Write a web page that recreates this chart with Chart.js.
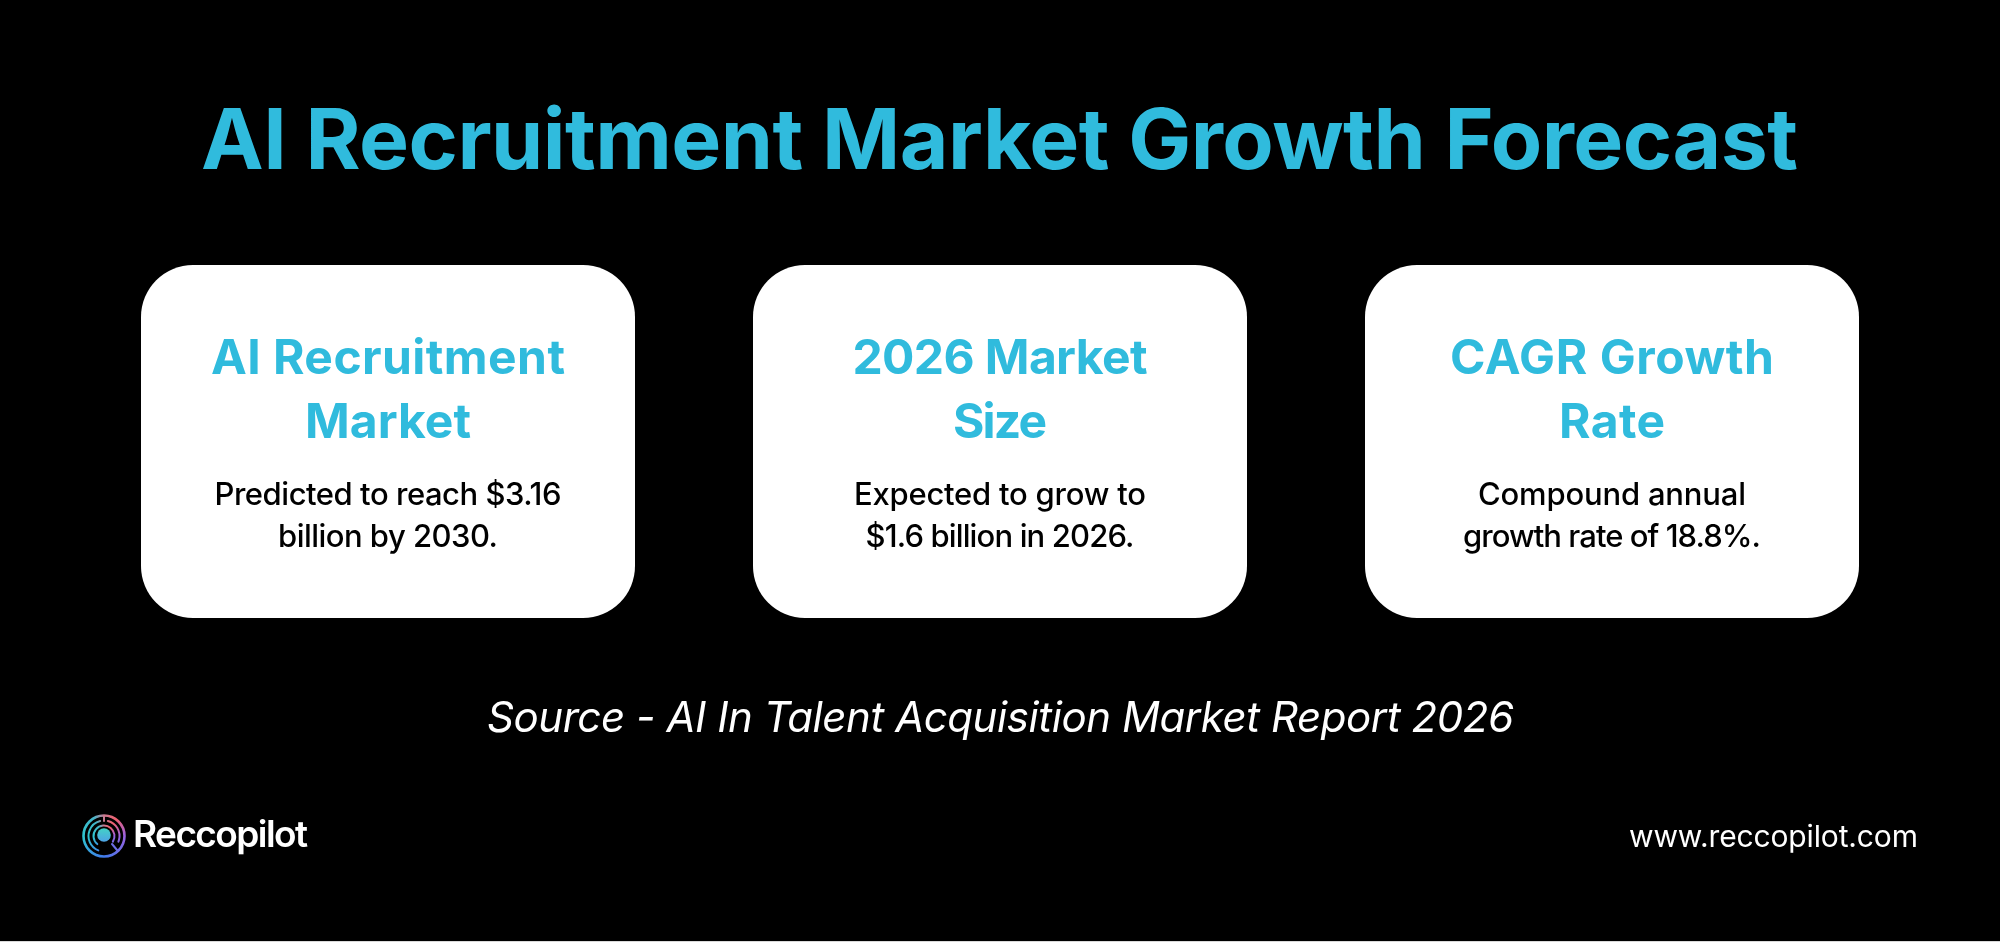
<!DOCTYPE html>
<html>
<head>
<meta charset="utf-8">
<style>
html,body{margin:0;padding:0;background:#000;width:2000px;height:942px;overflow:hidden}
canvas{display:block}
</style>
<script src="https://cdn.jsdelivr.net/npm/chart.js@4"></script>
</head>
<body>
<canvas id="c" width="2000" height="942"></canvas>
<script>
// Data
const cardKeys = ["AI Recruitment Market", "2026 Market Size", "CAGR Growth Rate"];
const cardHeights = [1, 1, 1];
const cardHeadings = [["AI Recruitment", "Market"], ["2026 Market", "Size"], ["CAGR Growth", "Rate"]];
const cardBodies = [
  ["Predicted to reach $3.16", "billion by 2030."],
  ["Expected to grow to", "$1.6 billion in 2026."],
  ["Compound annual", "growth rate of 18.8%."]
];
const titleText = "AI Recruitment Market Growth Forecast";
const sourceText = "Source - AI In Talent Acquisition Market Report 2026";
const brandText = "Reccopilot";
const siteText = "www.reccopilot.com";

// Style
const BLUE = "#30BBDD";
const FONT = "Inter, sans-serif";
const headingWidths = [[354, 166], [295, 94], [324, 106]];
const bodyWidths = [[347, 220], [292, 269], [268, 298]];

function fitText(ctx, s, x, y, width, font, color, align) {
  ctx.save();
  ctx.font = font;
  ctx.fillStyle = color;
  ctx.textBaseline = "alphabetic";
  ctx.textAlign = "left";
  ctx.letterSpacing = "0px";
  const w = ctx.measureText(s).width;
  const sp = (width - w) / (s.length - 1);
  ctx.letterSpacing = sp + "px";
  const left = align === "center" ? x - width / 2 : x;
  ctx.fillText(s, left, y);
  ctx.restore();
}

function drawLogo(ctx, cx, cy) {
  ctx.save();
  const g = ctx.createConicGradient(-Math.PI / 2, cx, cy);
  g.addColorStop(0, "#c9788f");
  g.addColorStop(0.1, "#f0606e");
  g.addColorStop(0.25, "#9a62e0");
  g.addColorStop(0.5, "#4079ea");
  g.addColorStop(0.75, "#2fc6cf");
  g.addColorStop(0.92, "#45b4c8");
  g.addColorStop(1, "#c9788f");
  ctx.strokeStyle = g;
  ctx.lineCap = "round";
  ctx.lineWidth = 2.6;
  ctx.beginPath(); ctx.arc(cx, cy, 20.5, 0, Math.PI * 2); ctx.stroke();
  ctx.lineWidth = 2;
  ctx.beginPath(); ctx.arc(cx, cy, 15.5, Math.PI * 0.62, Math.PI * 1.42); ctx.stroke();
  ctx.beginPath(); ctx.arc(cx, cy, 15.5, Math.PI * 1.58, Math.PI * 2.12); ctx.stroke();
  ctx.beginPath(); ctx.arc(cx, cy, 10.5, Math.PI * 0.72, Math.PI * 2.18); ctx.stroke();
  ctx.beginPath(); ctx.moveTo(cx, cy - 20); ctx.lineTo(cx, cy - 15); ctx.stroke();
  ctx.beginPath(); ctx.moveTo(cx + 8, cy + 8); ctx.lineTo(cx + 13, cy + 14); ctx.stroke();
  const d = ctx.createLinearGradient(cx, cy - 7, cx, cy + 7);
  d.addColorStop(0, "#43d0c8");
  d.addColorStop(1, "#4f9fe8");
  ctx.fillStyle = d;
  ctx.beginPath(); ctx.arc(cx, cy - 1, 6.8, 0, Math.PI * 2); ctx.fill();
  ctx.restore();
}

const textPlugin = {
  id: "infographicText",
  afterDatasetsDraw(chart) {
    const ctx = chart.ctx;
    const bars = chart.getDatasetMeta(0).data;
    fitText(ctx, titleText, 201, 169, 1597, "700 84px " + FONT, BLUE, "left");
    bars.forEach((bar, i) => {
      cardHeadings[i].forEach((line, j) => {
        fitText(ctx, line, bar.x, 374 + j * 64, headingWidths[i][j], "700 48px " + FONT, BLUE, "center");
      });
      cardBodies[i].forEach((line, j) => {
        fitText(ctx, line, bar.x, 505 + j * 42, bodyWidths[i][j], "500 31px " + FONT, "#000", "center");
      });
    });
    fitText(ctx, sourceText, 487, 732, 1027, "italic 400 42px " + FONT, "#fff", "left");
    fitText(ctx, brandText, 133, 847, 175, "600 37px " + FONT, "#fff", "left");
    fitText(ctx, siteText, 1629, 847, 289, "400 30px " + FONT, "#fff", "left");
    drawLogo(ctx, 104, 836);
    ctx.fillStyle = "#d9d9d9";
    ctx.fillRect(0, 941, 2000, 1);
  }
};

new Chart(document.getElementById("c"), {
  type: "bar",
  data: {
    labels: cardKeys,
    datasets: [{
      data: cardHeights,
      backgroundColor: "#ffffff",
      borderRadius: 52,
      borderSkipped: false,
      barPercentage: 494 / 612,
      categoryPercentage: 1
    }]
  },
  options: {
    responsive: false,
    animation: false,
    events: [],
    layout: { padding: { left: 82, right: 82, top: 265, bottom: 324 } },
    plugins: { legend: { display: false }, title: { display: false }, tooltip: { enabled: false } },
    scales: {
      x: { display: false },
      y: { display: false, min: 0, max: 1 }
    }
  },
  plugins: [textPlugin]
});
</script>
</body>
</html>
